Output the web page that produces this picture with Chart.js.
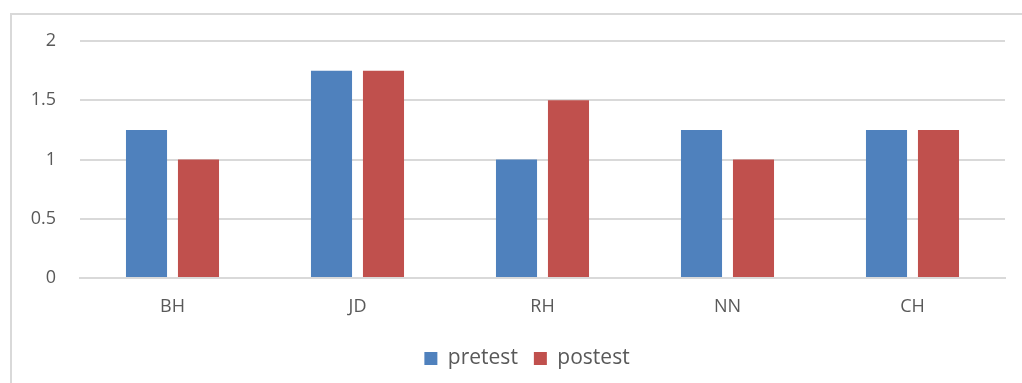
<!DOCTYPE html>
<html>
<head>
<meta charset="utf-8">
<script src="https://cdn.jsdelivr.net/npm/chart.js@4.4.1/dist/chart.umd.min.js"></script>
<style>
  html, body { margin: 0; padding: 0; background: #ffffff; }
  #wrap { position: relative; width: 1022px; height: 383px; }
  canvas { display: block; }
</style>
</head>
<body>
<div id="wrap"><canvas id="chart" width="1022" height="383"></canvas></div>
<script>
// Subjects and scores
const categories = ['BH', 'JD', 'RH', 'NN', 'CH'];
const pretest = [1.25, 1.75, 1.0, 1.25, 1.25];
const postest = [1.0, 1.75, 1.5, 1.0, 1.25];
const yTicks = [0, 0.5, 1, 1.5, 2];

const FONT = '"Open Sans", Lato, "Liberation Sans", sans-serif';
const TEXT = '#595959';

// Light grey frame around the chart (left and top edges visible)
const framePlugin = {
  id: 'frame',
  beforeDraw(chart) {
    const c = chart.ctx;
    c.save();
    c.strokeStyle = '#d9d9d9';
    c.lineWidth = 2;
    c.beginPath();
    c.moveTo(11, 400);
    c.lineTo(11, 14);
    c.lineTo(1030, 14);
    c.stroke();
    c.restore();
  }
};

// Centre the legend under the plot area rather than the whole canvas
const legendShift = {
  id: 'legendShift',
  afterLayout(chart) {
    if (chart.legend) chart.legend.left = 49;
  }
};

new Chart(document.getElementById('chart'), {
  type: 'bar',
  data: {
    labels: categories,
    datasets: [
      { label: 'pretest', data: pretest, backgroundColor: '#4f81bd',
        categoryPercentage: 0.562, barPercentage: 0.79 },
      { label: 'postest', data: postest, backgroundColor: '#c0504d',
        categoryPercentage: 0.562, barPercentage: 0.79 }
    ]
  },
  options: {
    responsive: false,
    animation: false,
    layout: { padding: { top: 41, right: 17, left: 0, bottom: 4 } },
    plugins: {
      legend: {
        position: 'bottom',
        labels: {
          font: { family: FONT, size: 21 },
          color: TEXT,
          boxWidth: 13,
          boxHeight: 13,
          padding: 16
        }
      },
      tooltip: { enabled: false }
    },
    scales: {
      x: {
        grid: { display: false, drawTicks: false },
        border: { display: true, color: '#d9d9d9', width: 2 },
        ticks: { font: { family: FONT, size: 18 }, color: TEXT, padding: 18 },
        afterFit(scale) { scale.height = 54; }
      },
      y: {
        min: 0, max: 2,
        afterBuildTicks(scale) { scale.ticks = yTicks.map(v => ({ value: v })); },
        grid: { color: '#d9d9d9', lineWidth: 2, drawTicks: false },
        border: { display: false },
        ticks: {
          font: { family: FONT, size: 18 }, color: TEXT, padding: 24,
          callback: v => String(v)
        },
        afterFit(scale) { scale.width = 80; }
      }
    }
  },
  plugins: [framePlugin, legendShift]
});
</script>
</body>
</html>
